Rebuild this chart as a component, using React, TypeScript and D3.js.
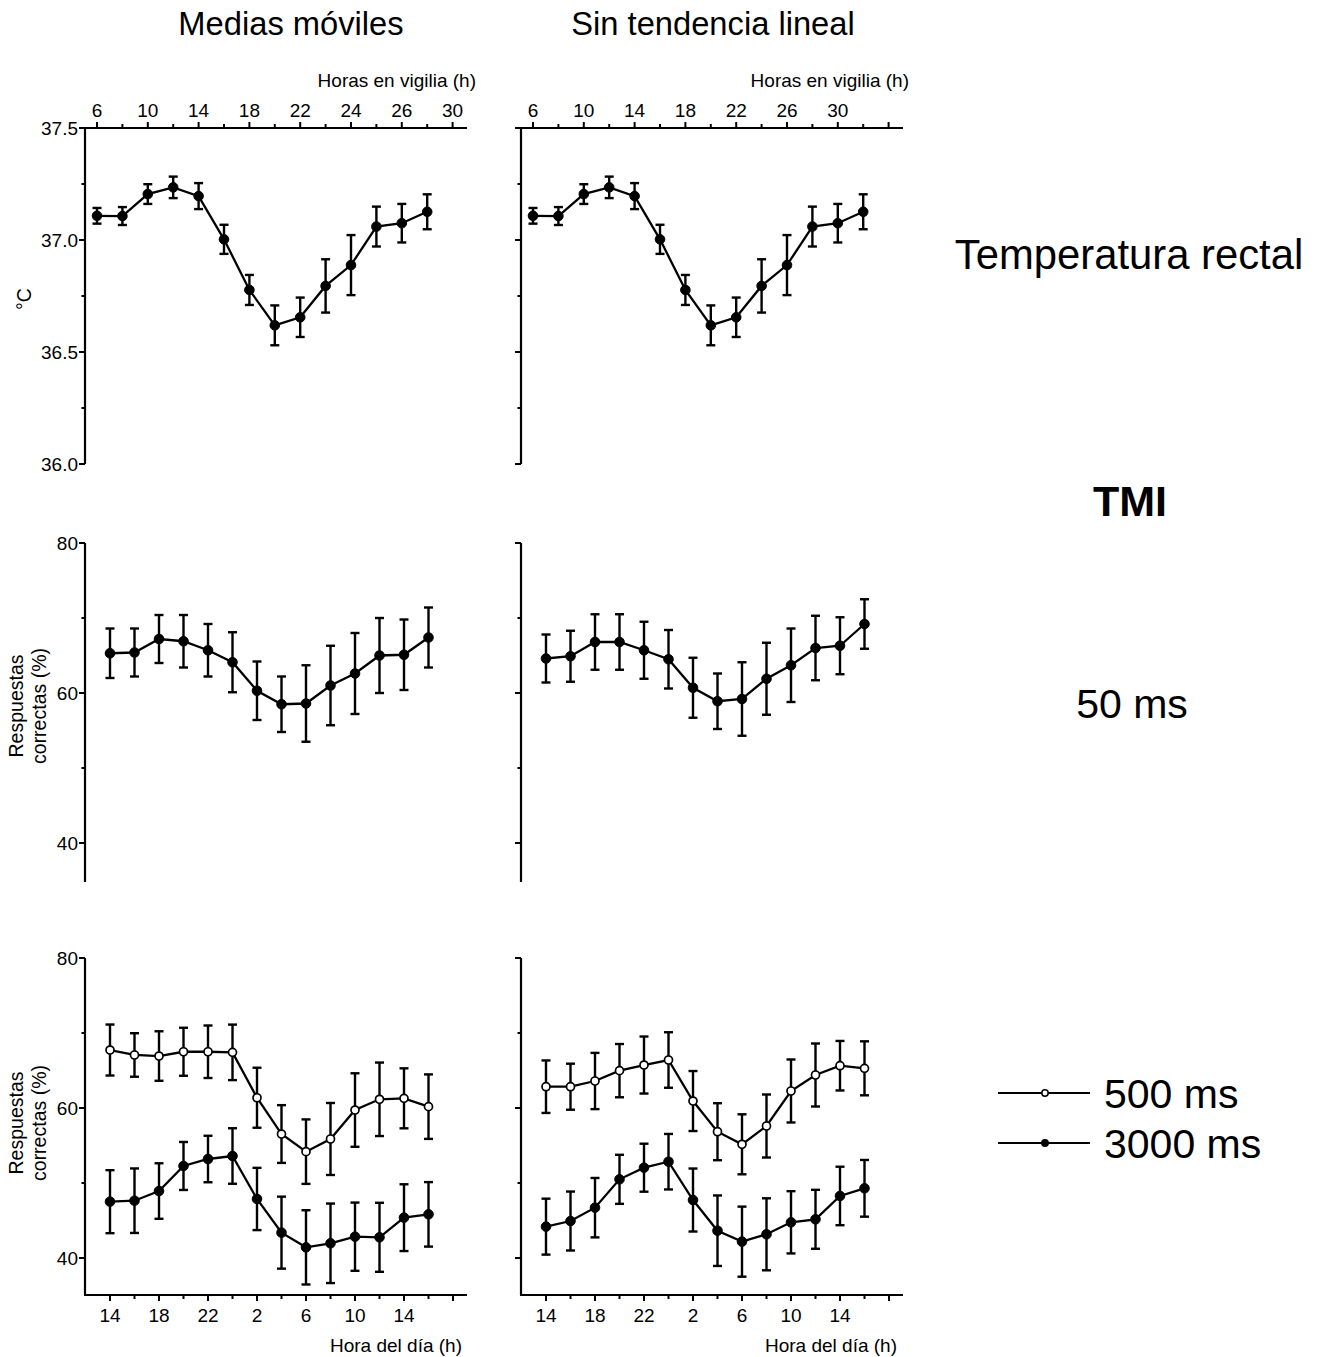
import React from 'react';
import * as d3 from 'd3';

// ---------- data ----------
const awakeLabelsLeft = ['6', '10', '14', '18', '22', '24', '26', '30'];
const awakeLabelsRight = ['6', '10', '14', '18', '22', '26', '30'];
const clockLabels = ['14', '18', '22', '2', '6', '10', '14'];

const tempMean = [37.108, 37.107, 37.205, 37.235, 37.196, 37.003, 36.777, 36.619, 36.655, 36.795, 36.888, 37.06, 37.075, 37.126];
const tempErr = [0.035, 0.04, 0.044, 0.048, 0.058, 0.065, 0.067, 0.089, 0.088, 0.119, 0.134, 0.089, 0.086, 0.078];

const ms50MeanLeft = [65.3, 65.4, 67.2, 66.9, 65.7, 64.1, 60.3, 58.5, 58.6, 61.0, 62.6, 65.0, 65.1, 67.4];
const ms50ErrLeft = [3.3, 3.2, 3.2, 3.5, 3.5, 4.0, 3.9, 3.7, 5.1, 5.3, 5.4, 5.0, 4.7, 4.0];
const ms50MeanRight = [64.6, 64.9, 66.8, 66.8, 65.7, 64.5, 60.7, 58.9, 59.2, 61.9, 63.7, 66.0, 66.3, 69.2];
const ms50ErrRight = [3.2, 3.4, 3.7, 3.7, 3.8, 3.9, 4.0, 3.7, 4.9, 4.8, 4.9, 4.3, 3.8, 3.3];

const ms500MeanLeft = [67.73, 67.07, 66.93, 67.5, 67.5, 67.42, 61.37, 56.53, 54.18, 55.87, 59.73, 61.16, 61.29, 60.18];
const ms500ErrLeft = [3.4, 2.9, 3.3, 3.2, 3.5, 3.7, 4.0, 3.85, 4.3, 4.8, 4.9, 4.9, 4.0, 4.3];
const ms3000MeanLeft = [47.51, 47.64, 48.93, 52.27, 53.2, 53.6, 47.87, 43.38, 41.42, 41.96, 42.84, 42.76, 45.38, 45.82];
const ms3000ErrLeft = [4.2, 4.3, 3.7, 3.2, 3.1, 3.7, 4.15, 4.8, 4.95, 5.3, 4.55, 4.6, 4.45, 4.3];

const ms500MeanRight = [62.84, 62.84, 63.6, 64.98, 65.73, 66.4, 60.93, 56.84, 55.16, 57.6, 62.27, 64.4, 65.64, 65.29];
const ms500ErrRight = [3.5, 3.07, 3.75, 3.55, 3.8, 3.7, 4.0, 3.8, 4.0, 4.2, 4.2, 4.2, 3.3, 3.6];
const ms3000MeanRight = [44.18, 44.93, 46.71, 50.49, 52.04, 52.84, 47.73, 43.64, 42.18, 43.16, 44.76, 45.16, 48.27, 49.29];
const ms3000ErrRight = [3.73, 3.93, 3.96, 3.27, 3.2, 3.7, 4.2, 4.7, 4.67, 4.8, 4.15, 3.93, 3.9, 3.78];

const tempTicks = [36.0, 36.5, 37.0, 37.5];
const tempMinor = [36.25, 36.75, 37.25];
const pctTicks = [40, 60, 80];
const pctMinor = [50, 70];

const FONT = 'Liberation Sans, Arial, Helvetica, sans-serif';
const COL_OFFSET = 436;

type Series = { mean: number[]; err: number[]; open: boolean };

function Points({ series, x, y }: { series: Series; x: (i: number) => number; y: d3.ScaleLinear<number, number> }) {
  const line = d3.line<number>().x((_, i) => x(i)).y((d) => y(d));
  return (
    <g>
      <path d={line(series.mean) || ''} fill="none" stroke="#000" strokeWidth={2.3} />
      {series.mean.map((m, i) => {
        const cx = x(i);
        const y1 = y(m + series.err[i]);
        const y2 = y(m - series.err[i]);
        return (
          <g key={i} stroke="#000" strokeWidth={2.4}>
            <line x1={cx} x2={cx} y1={y1} y2={y2} />
            <line x1={cx - 4.5} x2={cx + 4.5} y1={y1} y2={y1} />
            <line x1={cx - 4.5} x2={cx + 4.5} y1={y2} y2={y2} />
          </g>
        );
      })}
      {series.mean.map((m, i) => (
        <circle key={'c' + i} cx={x(i)} cy={y(m)} r={series.open ? 4 : 4.8}
          fill={series.open ? '#fff' : '#000'} stroke="#000" strokeWidth={series.open ? 1.7 : 1} />
      ))}
    </g>
  );
}

function YAxis({ x0, y, top, bottom, ticks, minor, labels, fmt }: any) {
  return (
    <g>
      <line x1={x0} x2={x0} y1={top} y2={bottom} stroke="#000" strokeWidth={2.2} />
      {ticks.map((t: number) => (
        <g key={t}>
          <line x1={x0 - 6} x2={x0} y1={y(t)} y2={y(t)} stroke="#000" strokeWidth={2} />
          {labels && (
            <text x={x0 - 7} y={y(t)} dy="0.35em" textAnchor="end" fontSize={19} fontFamily={FONT}>{fmt(t)}</text>
          )}
        </g>
      ))}
      {minor.map((t: number) => (
        <line key={'m' + t} x1={x0 - 3.5} x2={x0} y1={y(t)} y2={y(t)} stroke="#000" strokeWidth={2} />
      ))}
    </g>
  );
}

function HAxis({ yPos, x, x0, x1, labels, dir, labelY, title, titleX, titleY }: any) {
  const ticks = d3.range(0, 15);
  return (
    <g>
      <line x1={x0} x2={x1} y1={yPos} y2={yPos} stroke="#000" strokeWidth={2.2} />
      {ticks.map((k) => {
        const len = k % 2 === 0 ? 6 : 4;
        return <line key={k} x1={x(k)} x2={x(k)} y1={yPos} y2={yPos + dir * len} stroke="#000" strokeWidth={2} />;
      })}
      {labels.map((l: string, j: number) => (
        <text key={j} x={x(j * 2)} y={labelY} textAnchor="middle" fontSize={19} fontFamily={FONT}>{l}</text>
      ))}
      <text x={titleX} y={titleY} textAnchor="end" fontSize={19} fontFamily={FONT}>{title}</text>
    </g>
  );
}

export default function App() {
  const yTemp = d3.scaleLinear().domain([36, 37.5]).range([464, 128]);
  const yMid = d3.scaleLinear().domain([40, 80]).range([843, 543]);
  const yBot = d3.scaleLinear().domain([40, 80]).range([1258, 958]);
  const xTopBase = d3.scaleLinear().domain([0, 14]).range([97, 452.6]);
  const xBotBase = d3.scaleLinear().domain([0, 14]).range([110, 453]);

  const cols = [0, 1];
  const tempSeries: Series = { mean: tempMean, err: tempErr, open: false };
  const midSeries: Series[] = [
    { mean: ms50MeanLeft, err: ms50ErrLeft, open: false },
    { mean: ms50MeanRight, err: ms50ErrRight, open: false },
  ];
  const botSeries: Series[][] = [
    [
      { mean: ms500MeanLeft, err: ms500ErrLeft, open: true },
      { mean: ms3000MeanLeft, err: ms3000ErrLeft, open: false },
    ],
    [
      { mean: ms500MeanRight, err: ms500ErrRight, open: true },
      { mean: ms3000MeanRight, err: ms3000ErrRight, open: false },
    ],
  ];
  const titles = ['Medias móviles', 'Sin tendencia lineal'];
  const titleX = [291, 713];

  return (
    <svg width={1324} height={1357} style={{ position: 'absolute', left: 0, top: 0, background: '#fff' }}>
      <rect width={1324} height={1357} fill="#fff" />
      {cols.map((c) => {
        const off = c * COL_OFFSET;
        const xTop = (i: number) => xTopBase(i) + off;
        const xBot = (i: number) => xBotBase(i) + off;
        const ax = 85 + off;
        return (
          <g key={c}>
            <text x={titleX[c]} y={35} textAnchor="middle" fontSize={32.7} fontFamily={FONT}>{titles[c]}</text>
            {/* temperature panel */}
            <HAxis yPos={128} x={xTop} x0={ax} x1={467 + off} labels={c === 0 ? awakeLabelsLeft : awakeLabelsRight}
              dir={-1} labelY={117} title="Horas en vigilia (h)" titleX={c === 0 ? 476 : 909} titleY={87} />
            <YAxis x0={ax} y={yTemp} top={128} bottom={464} ticks={tempTicks} minor={tempMinor} labels={c === 0}
              fmt={(t: number) => t.toFixed(1)} />
            <Points series={tempSeries} x={xTop} y={yTemp} />
            {/* 50 ms panel */}
            <YAxis x0={ax} y={yMid} top={543} bottom={882} ticks={pctTicks} minor={pctMinor} labels={c === 0}
              fmt={(t: number) => String(t)} />
            <Points series={midSeries[c]} x={xBot} y={yMid} />
            {/* 500 / 3000 ms panel */}
            <YAxis x0={ax} y={yBot} top={958} bottom={1295} ticks={pctTicks} minor={pctMinor} labels={c === 0}
              fmt={(t: number) => String(t)} />
            <HAxis yPos={1295} x={xBot} x0={ax - 1} x1={467 + off} labels={clockLabels}
              dir={1} labelY={1322} title="Hora del día (h)" titleX={c === 0 ? 462 : 897} titleY={1352} />
            {botSeries[c].map((s, j) => (
              <Points key={j} series={s} x={xBot} y={yBot} />
            ))}
          </g>
        );
      })}

      {/* y-axis titles */}
      <text transform="translate(31,299) rotate(-90)" textAnchor="middle" fontSize={19.5} fontFamily={FONT}>°C</text>
      {[706, 1123].map((cy) => (
        <g key={cy}>
          <text transform={`translate(23,${cy}) rotate(-90)`} textAnchor="middle" fontSize={19.5} fontFamily={FONT}>Respuestas</text>
          <text transform={`translate(46,${cy}) rotate(-90)`} textAnchor="middle" fontSize={19.5} fontFamily={FONT}>correctas (%)</text>
        </g>
      ))}

      {/* right-side labels */}
      <text x={1129} y={269} textAnchor="middle" fontSize={41.8} fontFamily={FONT}>Temperatura rectal</text>
      <text x={1130} y={516} textAnchor="middle" fontSize={43} fontWeight="bold" fontFamily={FONT}>TMI</text>
      <text x={1132} y={718} textAnchor="middle" fontSize={41} fontFamily={FONT}>50 ms</text>

      {/* legend */}
      {[{ label: '500 ms', y: 1093, open: true }, { label: '3000 ms', y: 1143, open: false }].map((l) => (
        <g key={l.label}>
          <line x1={998} x2={1090} y1={l.y} y2={l.y} stroke="#000" strokeWidth={2} />
          <circle cx={1045} cy={l.y} r={3.2} fill={l.open ? '#fff' : '#000'} stroke="#000" strokeWidth={1.5} />
          <text x={1104} y={l.y + 15} fontSize={41} fontFamily={FONT}>{l.label}</text>
        </g>
      ))}
    </svg>
  );
}
